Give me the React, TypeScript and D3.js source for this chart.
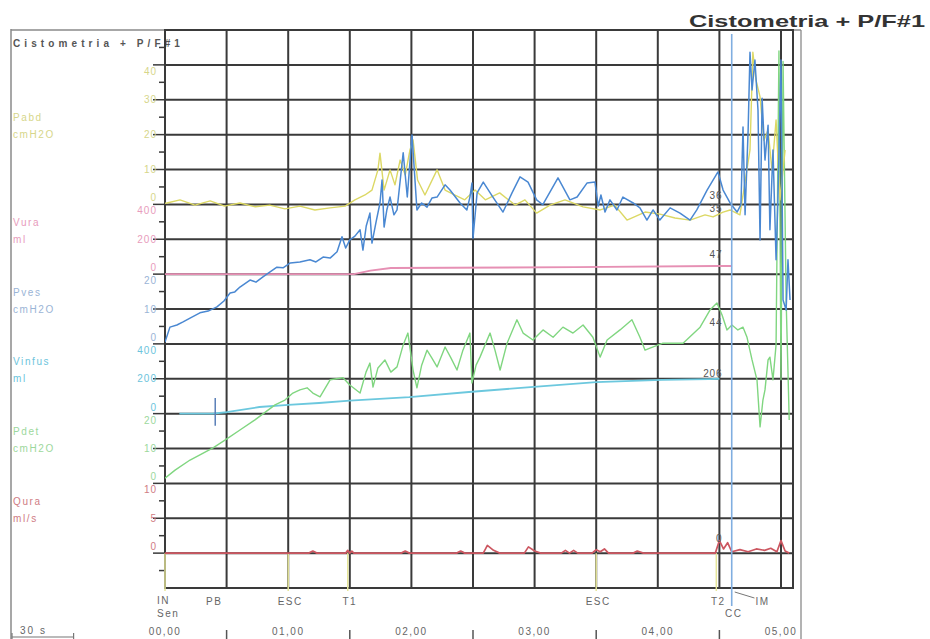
import React from "react";
import * as d3 from "d3";

type Pt = [number, number];

// ---- data (time in seconds, values in channel units) ----
const timeTicks = [0, 60, 120, 180, 240, 300];
const timeLabels = ["00,00", "01,00", "02,00", "03,00", "04,00", "05,00"];
const halfMinuteTicks = [30, 90, 150, 210, 270];
const gridTimes = [30, 60, 90, 120, 150, 180, 210, 240, 270, 300];

const channelNames = ["Pabd", "Vura", "Pves", "Vinfus", "Pdet", "Qura"];
const channelUnits = ["cmH2O", "ml", "cmH2O", "ml", "cmH2O", "ml/s"];
const channelTicks = [
  [0, 10, 20, 30, 40],
  [0, 200, 400],
  [0, 10, 20],
  [0, 200, 400],
  [0, 10, 20],
  [0, 5, 10],
];

const pabdData: Pt[] = [
  [0, 0.3], [1, 0.4], [7.3, 1.3], [14.6, -0.2], [22, 1], [29, -0.5], [36.5, 0.4], [44, -0.7],
  [51, -0.2], [58.4, -1.3], [65.7, -0.5], [73, -1.6], [80.4, -1], [87.7, -0.5], [92.5, 1.3],
  [97.4, 2.7], [100.8, 4.1], [103.7, 9.9], [104.7, 14.7], [106.7, 4.1], [109.6, 9.9], [112, 5.6],
  [114.5, 12.7], [117, 8.4], [119.3, 15.6], [120.8, 18.5], [123, 7], [126.6, 2.7], [132.5, 9.9],
  [136.4, 4.1], [141, 2.7], [146, 1.3], [151, 4.1], [156, 1.3], [163, 3.3], [170.5, -0.2],
  [175.3, 1.3], [181, -2.5], [187.5, -0.2], [194.8, 1.3], [203.6, -0.7], [212, -1.6], [219, -0.2],
  [225, -4.5], [233.8, -2.2], [241, -2.8], [248.4, -3.9], [255.7, -4.5], [263, -3], [266.9, -3.6],
  [271.8, -2.2], [275.2, -1.6], [280, -3], [284.9, 15.6], [286.3, 43.6], [287.8, 35.7],
  [289.8, 30.8], [291.7, 18.4], [293.7, 21.3], [295.6, 9.9], [297.6, 24.2], [299.5, 1.3], [302, 15.6],
];

const vuraData: Pt[] = [
  [0, 0], [92, 0], [100, 20], [110, 35], [200, 40], [268, 47], [276, 47],
];

const pvesData: Pt[] = [
  [0, 0.5], [2.4, 4.8], [5.8, 5.4], [8.8, 6.3], [12.2, 7.4], [17, 8.9], [21, 9.4], [25.3, 10.6],
  [28.7, 12.3], [31.7, 14.6], [34, 14.9], [36.5, 16.3], [41.4, 18.3], [44.3, 17.7], [47.7, 19.2],
  [51, 20.6], [54.5, 22], [57.5, 21.8], [61, 23.2], [65.7, 23.5], [70.6, 24.1], [73.5, 23.5],
  [77, 24.9], [80.4, 24.6], [83.8, 26.4], [86.2, 30.7], [88, 27.5], [90, 29.8], [92.5, 30.9],
  [95, 32.7], [96.4, 26.9], [98, 33.8], [99.8, 37.5], [100.8, 28.9], [102.8, 35], [104.7, 40.4],
  [105.7, 47], [106.7, 33.5], [108, 38.3], [109.6, 42.1], [111.5, 37], [113, 38.4], [116, 54.8],
  [118, 42.1], [120.3, 59.9], [122.7, 38.4], [125, 40.4], [127.6, 39.2], [130, 41.8], [132.5, 42.1],
  [136.4, 45.6], [138.8, 44.1], [143.7, 40.4], [147, 38.4], [148.5, 42.1], [149.5, 46.1],
  [150, 30.3], [152, 43.3], [155, 46.4], [159.7, 42.1], [164.6, 37.8], [169, 43.3], [172.9, 47.9],
  [176.8, 46.4], [181, 41.3], [184, 39.9], [191.4, 47.6], [197.2, 41.3], [200.7, 42.1],
  [205.5, 46.1], [209.4, 46.4], [211, 39.5], [212.3, 42.7], [214.3, 37.8], [216.7, 41.3],
  [220.1, 38.4], [223, 42.1], [228, 40.4], [231.3, 39], [234.7, 35.5], [237.7, 38.4], [241, 35.5],
  [246, 39], [250.8, 37.5], [255.7, 35.5], [259, 38.4], [264, 44.1], [269.3, 49.3], [271.8, 44.1],
  [275.2, 40.4], [278.6, 37.8], [280.5, 39.9], [281.5, 62.2], [282.5, 37], [284, 61.3],
  [284.9, 83.6], [285.9, 72.8], [287.3, 81.4], [288.8, 67], [289.8, 29.8], [290.8, 70.4],
  [292.2, 52.7], [293.7, 62.7], [294.6, 32.7], [296.1, 55.6], [297.6, 24.1], [298.5, 41.3],
  [300, 81.4], [301, 12.6], [302.5, 9.7], [303.4, 24.1], [304.4, 12.6],
];

const vinfusData: Pt[] = [
  [7, 0], [23, 0], [30, 8], [46, 38], [60, 50], [75, 61], [90, 75], [119, 95], [148, 124],
  [178, 152], [210, 181], [242, 193], [265, 198], [270, 200],
];

const pdetData: Pt[] = [
  [0, 1.5], [4.9, 3.8], [12.2, 6.7], [17, 8.2], [23.4, 10.2], [29.2, 12.4], [36.5, 15.3],
  [43.8, 18.2], [53.6, 22.5], [58.4, 23.9], [62.3, 25.9], [65.7, 26.8], [69.2, 27.4], [72, 25.9],
  [75.5, 24.8], [80.4, 29.7], [86.7, 30.3], [90, 28.2], [95, 25.9], [97.9, 31.9], [99.8, 34.5],
  [101.3, 27.6], [103.7, 33.1], [107.1, 35.4], [110, 31.9], [113, 33.4], [116, 39.7], [118.3, 43.1],
  [120.8, 32.5], [122.7, 27.4], [125, 33.9], [127.6, 38.2], [130, 35.9], [132.5, 33.4],
  [136.4, 39.1], [139.3, 35.9], [142.2, 32.5], [145.1, 38.2], [148.5, 43.1], [149.5, 28.8],
  [151.5, 33.9], [153.4, 36.2], [158.3, 43.1], [160.7, 38.2], [163.2, 32.5], [166.6, 40.2],
  [171.4, 46.9], [174.4, 43.1], [179.2, 41.1], [184.1, 44], [189, 41.9], [193.8, 44.8],
  [198.7, 43.1], [203.6, 45.4], [208.4, 41.9], [211.9, 36.2], [215.3, 41.1], [221.6, 44],
  [227.4, 46.9], [231.3, 41.9], [233.8, 38.2], [236.2, 38.8], [242.5, 40.2], [252.3, 40.2],
  [260.6, 44.8], [265.4, 49.7], [268.8, 51.7], [271.3, 48.3], [273.7, 44], [276.1, 45.4],
  [279, 44], [281.5, 44.8], [283.4, 42], [285.9, 35.4], [288.3, 29.7], [289.8, 16.2],
  [291.2, 23.9], [292.2, 26.8], [293.7, 35.4], [294.6, 36.2], [296.1, 29.7], [297.6, 39.8],
  [299, 124], [300, 29.7], [301, 121], [302.5, 52.6], [304, 18.2],
];

const quraData: Pt[] = [
  [0, 0], [70, 0], [72, 0.3], [74, 0], [88, 0], [89, 0.4], [90, 0], [91, 0.3], [92, 0], [115, 0],
  [117, 0.3], [119, 0], [142, 0], [144, 0.3], [146, 0], [155, 0], [157, 1.1], [160, 0.4], [163, 0],
  [175, 0], [177, 0.9], [180, 0.3], [183, 0], [193, 0], [195, 0.4], [197, 0], [199, 0.4], [201, 0],
  [208, 0], [210, 0.5], [212, 0.2], [214, 0.6], [216, 0], [228, 0], [230, 0.3], [233, 0], [268, 0],
  [270, 1.8], [272, 0.6], [274, 1.5], [276, 0.2], [280, 0.5], [284, 0.2], [288, 0.6], [292, 0.4],
  [295, 0.7], [298, 0.2], [300, 1.8], [302, 0.3], [304, 0],
];

const eventTimes = [0, 23, 60, 89, 210, 268.5, 276, 290];
const eventLabels = ["IN", "PB", "ESC", "T1", "ESC", "T2", "CC", "IM"];

// value notes at T2: text, channel index, value used for placement
const noteTexts = ["36", "35", "47", "44", "206", "0"];
const noteChannels = [0, 0, 1, 4, 3, 5];
const noteValues = [1.5, -2.2, 90, 45, 212, 1.6];

// ---- layout ----
const W = 930;
const H = 639;
const X0 = 165;
const X1 = 793;
const Y0 = 30;
const ROW = 34.875;
const Y1 = Y0 + 16 * ROW;
const FONT = "'Liberation Sans', Arial, sans-serif";

const x = d3.scaleLinear().domain([0, 300]).range([X0, 781]);
const yLine = (i: number) => Y0 + i * ROW;

const zeroLines = [5, 7, 9, 11, 13, 15];
const perRow = [10, 200, 10, 200, 10, 5];
const spanRows = [5, 2, 2, 2, 2, 2];
const nameRowOffset = [2.5, 0.5, 0.5, 0.5, 0.5, 0.5];
const traceColors = ["#dcd864", "#e690b4", "#4a88d2", "#6cc8de", "#80d680", "#cc5660"];
const labelColors = ["#d6d68a", "#e89cbc", "#9ab4d6", "#6cc4dc", "#9cd89c", "#cf7c84"];
const traceWidths = [1.4, 1.9, 1.5, 1.8, 1.4, 1.7];

const yScales = zeroLines.map((z, i) =>
  d3.scaleLinear().domain([0, perRow[i]]).range([yLine(z), yLine(z - 1)])
);

const datasets = [pabdData, vuraData, pvesData, vinfusData, pdetData, quraData];
const drawOrder = [1, 3, 5, 4, 0, 2];

export default function App() {
  const grid = "#3a3a3a";
  return (
    <svg
      width={W}
      height={H}
      viewBox={`0 0 ${W} ${H}`}
      style={{ position: "absolute", left: 0, top: 0, background: "#fff" }}
      fontFamily={FONT}
    >
      <defs>
        <clipPath id="plotClip">
          <rect x={X0} y={Y0} width={X1 - X0} height={Y1 - Y0} />
        </clipPath>
      </defs>

      {/* main title */}
      <text
        x={925}
        y={27}
        textAnchor="end"
        fontSize={17}
        fontWeight="bold"
        fill="#333"
        textLength={236}
        lengthAdjust="spacingAndGlyphs"
      >
        Cistometria + P/F#1
      </text>

      {/* outer frame */}
      <line x1={11} y1={29} x2={11} y2={H} stroke="#8a8a8a" strokeWidth={1.5} />
      <line x1={801} y1={30} x2={801} y2={H} stroke="#9a9a9a" strokeWidth={1.5} />
      <line x1={11} y1={30} x2={801} y2={30} stroke="#8a8a8a" strokeWidth={1.5} />

      <text x={13} y={47} fontSize={10} fontWeight="bold" fill="#555" letterSpacing={4.1}>
        Cistometria + P/F#1
      </text>

      {/* horizontal grid + left ticks */}
      {d3.range(1, 16).map((i) => (
        <g key={`h${i}`}>
          <line x1={X0} x2={X1} y1={yLine(i)} y2={yLine(i)} stroke={grid} strokeWidth={2} />
          <line x1={X0 - 12} x2={X0} y1={yLine(i)} y2={yLine(i)} stroke={grid} strokeWidth={1.5} />
        </g>
      ))}
      {d3.range(0, 16).map((i) => (
        <line
          key={`m${i}`}
          x1={X0 - 6}
          x2={X0}
          y1={yLine(i + 0.5)}
          y2={yLine(i + 0.5)}
          stroke={grid}
          strokeWidth={1.5}
        />
      ))}

      {/* vertical grid */}
      {gridTimes.map((t) => (
        <line key={`v${t}`} x1={x(t)} x2={x(t)} y1={Y0} y2={Y1} stroke={grid} strokeWidth={2} />
      ))}
      <rect x={X0} y={Y0} width={X1 - X0} height={Y1 - Y0} fill="none" stroke={grid} strokeWidth={2} />

      {/* channel names and scale labels */}
      {channelNames.map((name, i) => {
        const top = zeroLines[i] - spanRows[i];
        const ny = yLine(top + nameRowOffset[i]);
        return (
          <g key={name} fill={labelColors[i]} fontSize={10} letterSpacing={1.6}>
            <text x={13} y={ny + 4}>{name}</text>
            <text x={13} y={ny + 21}>{channelUnits[i]}</text>
            {channelTicks[i].map((v, k) => {
              const yy = yScales[i](v);
              const last = channelTicks[i].length - 1;
              const dy = k === 0 ? -3 : k === last ? 10 : 3.5;
              return (
                <text key={v} x={157} y={yy + dy} textAnchor="end" letterSpacing={1}>
                  {v}
                </text>
              );
            })}
          </g>
        );
      })}

      {/* event marker lines */}
      {[0, 2, 3, 4, 5].map((k) => (
        <line
          key={`ev${k}`}
          x1={x(eventTimes[k])}
          x2={x(eventTimes[k])}
          y1={yLine(15)}
          y2={Y1 + 3}
          stroke="#e6e69a"
          strokeWidth={1.5}
        />
      ))}

      {/* traces */}
      <g clipPath="url(#plotClip)" fill="none" strokeLinejoin="round">
        {drawOrder.map((i) => {
          const line = d3
            .line<Pt>()
            .x((d) => x(d[0]))
            .y((d) => yScales[i](d[1]));
          return (
            <path
              key={`tr${i}`}
              d={line(datasets[i]) || ""}
              stroke={traceColors[i]}
              strokeWidth={traceWidths[i]}
            />
          );
        })}
      </g>

      {/* PB mark on infusion channel */}
      <line
        x1={x(eventTimes[1]) + 3}
        x2={x(eventTimes[1]) + 3}
        y1={yScales[3](90)}
        y2={yScales[3](-70)}
        stroke="#5a7fb8"
        strokeWidth={1.5}
      />

      {/* CC line */}
      <line
        x1={x(eventTimes[6])}
        x2={x(eventTimes[6])}
        y1={Y0 + 4}
        y2={Y1 + 18}
        stroke="#80aee0"
        strokeWidth={1.6}
      />
      {/* IM connector */}
      <line
        x1={x(eventTimes[6]) + 3}
        y1={Y1 + 4}
        x2={x(eventTimes[7]) - 6}
        y2={Y1 + 10}
        stroke="#777"
        strokeWidth={1}
      />

      {/* value notes at T2 */}
      {noteTexts.map((s, k) => (
        <text
          key={`n${k}`}
          x={x(eventTimes[5]) + 6}
          y={yScales[noteChannels[k]](noteValues[k])}
          textAnchor="end"
          fontSize={10}
          fill="#555"
          letterSpacing={0.8}
        >
          {s}
        </text>
      ))}

      {/* event labels */}
      <g fontSize={10} fill="#666" letterSpacing={1.5}>
        {eventLabels.map((s, k) => {
          const cx = x(eventTimes[k]);
          if (k === 0)
            return (
              <g key="ev0">
                <text x={cx - 8} y={604}>{s}</text>
                <text x={cx - 8} y={617}>Sen</text>
              </g>
            );
          const yy = s === "CC" ? 617 : 605;
          return (
            <text key={`el${k}`} x={cx + 2} y={yy} textAnchor="middle">
              {s}
            </text>
          );
        })}
      </g>

      {/* time axis */}
      <g fontSize={10} fill="#666" letterSpacing={1.5}>
        {timeTicks.map((t, k) => (
          <text key={`tl${t}`} x={x(t)} y={635} textAnchor="middle">
            {timeLabels[k]}
          </text>
        ))}
      </g>
      {halfMinuteTicks.map((t) => (
        <line key={`ht${t}`} x1={x(t)} x2={x(t)} y1={630} y2={H} stroke="#555" strokeWidth={1.5} />
      ))}

      {/* 30 s scale bar */}
      <text x={20} y={634} fontSize={10} fill="#666" letterSpacing={2}>
        30 s
      </text>
      <line x1={12} x2={12 + x(30) - x(0)} y1={637} y2={637} stroke="#777" strokeWidth={1.2} />
      <line x1={12} x2={12} y1={633} y2={639} stroke="#777" strokeWidth={1.2} />
      <line x1={12 + x(30) - x(0)} x2={12 + x(30) - x(0)} y1={633} y2={639} stroke="#777" strokeWidth={1.2} />
    </svg>
  );
}
